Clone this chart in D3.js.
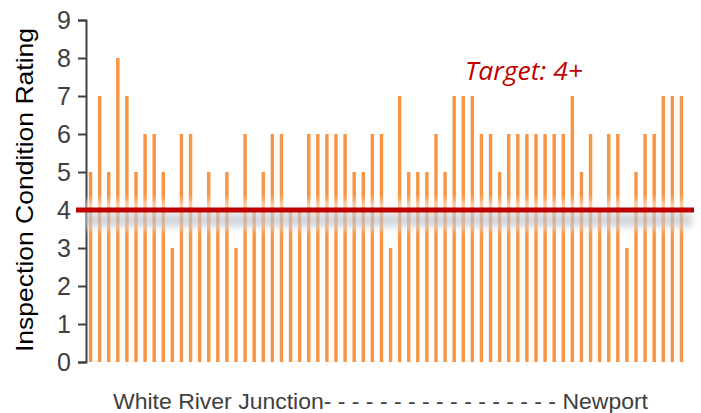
<!DOCTYPE html>
<html>
<head>
<meta charset="utf-8">
<script src="https://cdn.jsdelivr.net/npm/d3@7"></script>
<style>
  body { margin: 0; background: #fff; }
  svg { display: block; }
</style>
</head>
<body>
<div id="chart"></div>
<script>
// inspection ratings per bridge, listed from White River Junction up to Newport
var bridges = d3.range(1, 67).map(function (i) { return "B" + i; });
var ratings = [5, 7, 5, 8, 7, 5, 6, 6, 5, 3, 6, 6, 4, 5, 4, 5, 3, 6, 4, 5, 6, 6, 4, 4,
  6, 6, 6, 6, 6, 5, 5, 6, 6, 3, 7, 5, 5, 5, 6, 5, 7, 7, 7, 6, 6, 5, 6, 6, 6, 6, 6, 6,
  6, 7, 5, 6, 4, 6, 6, 3, 5, 6, 6, 7, 7, 7];
var yTicks = [0, 1, 2, 3, 4, 5, 6, 7, 8, 9];
var targetValue = 4;
var targetLabel = "Target: 4+";
var xLabel = "White River Junction- - - - - - - - - - - - - - - - - Newport";
var yLabel = "Inspection Condition Rating";

var svgWidth = 701;
var svgHeight = 413;

var margin = { top: 20, right: 15, bottom: 51, left: 86 };
var width = svgWidth - margin.left - margin.right;
var height = svgHeight - margin.top - margin.bottom;

var svg = d3.select("#chart")
  .append("svg")
  .attr("width", svgWidth)
  .attr("height", svgHeight);

// blur filter for the soft glow/shadow round the target line
var defs = svg.append("defs");
defs.append("filter")
  .attr("id", "soft")
  .attr("filterUnits", "userSpaceOnUse")
  .attr("x", 0).attr("y", 0)
  .attr("width", svgWidth).attr("height", svgHeight)
  .append("feGaussianBlur")
  .attr("stdDeviation", 3);

var chartGroup = svg.append("g")
  .attr("transform", `translate(${margin.left}, ${margin.top})`);

var xScale = d3.scaleBand()
  .domain(bridges)
  .range([0, width])
  .paddingInner(0.62)
  .paddingOuter(0.31);

var yScale = d3.scaleLinear()
  .domain([0, 9])
  .range([height, 0]);

// bars
chartGroup.selectAll(".bar")
  .data(ratings)
  .enter()
  .append("rect")
  .attr("class", "bar")
  .attr("x", function (d, i) { return xScale(bridges[i]); })
  .attr("y", function (d) { return yScale(d); })
  .attr("width", xScale.bandwidth())
  .attr("height", function (d) { return height - yScale(d); })
  .attr("fill", "#F79646");

// y axis
var leftAxis = d3.axisLeft(yScale)
  .tickValues(yTicks)
  .tickSize(8)
  .tickPadding(7);

var yAxis = chartGroup.append("g")
  .call(leftAxis);
yAxis.select(".domain").attr("stroke", "#404040").attr("stroke-width", 2);
yAxis.selectAll(".tick line").attr("stroke", "#404040").attr("stroke-width", 2);
yAxis.selectAll(".tick text")
  .attr("fill", "#404040")
  .attr("font-family", "Liberation Sans, Arial, sans-serif")
  .attr("font-size", "25px");

// target line with a faded glow round it and a grey shadow underneath
var ty = yScale(targetValue);
chartGroup.append("rect")
  .attr("x", -6)
  .attr("y", ty - 10)
  .attr("width", width + 14)
  .attr("height", 30)
  .attr("fill", "#ffffff")
  .attr("opacity", 0.5)
  .attr("filter", "url(#soft)");

chartGroup.append("rect")
  .attr("x", -4)
  .attr("y", ty + 3)
  .attr("width", width + 10)
  .attr("height", 14)
  .attr("fill", "#7d8696")
  .attr("opacity", 0.32)
  .attr("filter", "url(#soft)");

chartGroup.append("line")
  .attr("x1", -10)
  .attr("x2", width + 8)
  .attr("y1", ty)
  .attr("y2", ty)
  .attr("stroke", "#C00000")
  .attr("stroke-width", 5);

chartGroup.append("text")
  .attr("x", 465 - margin.left)
  .attr("y", 80 - margin.top)
  .attr("fill", "#C00000")
  .attr("font-family", "Open Sans, sans-serif")
  .attr("font-style", "italic")
  .attr("font-size", "25px")
  .attr("textLength", 118)
  .attr("lengthAdjust", "spacingAndGlyphs")
  .text(targetLabel);

// axis titles
svg.append("text")
  .attr("transform", `translate(33, 190) rotate(-90)`)
  .attr("text-anchor", "middle")
  .attr("fill", "#000")
  .attr("font-family", "Liberation Sans, Arial, sans-serif")
  .attr("font-size", "24px")
  .attr("textLength", 324)
  .attr("lengthAdjust", "spacingAndGlyphs")
  .text(yLabel);

svg.append("text")
  .attr("x", 113)
  .attr("y", 409)
  .attr("fill", "#404040")
  .attr("font-family", "Liberation Sans, Arial, sans-serif")
  .attr("font-size", "22px")
  .attr("textLength", 535)
  .attr("lengthAdjust", "spacingAndGlyphs")
  .text(xLabel);
</script>
</body>
</html>
